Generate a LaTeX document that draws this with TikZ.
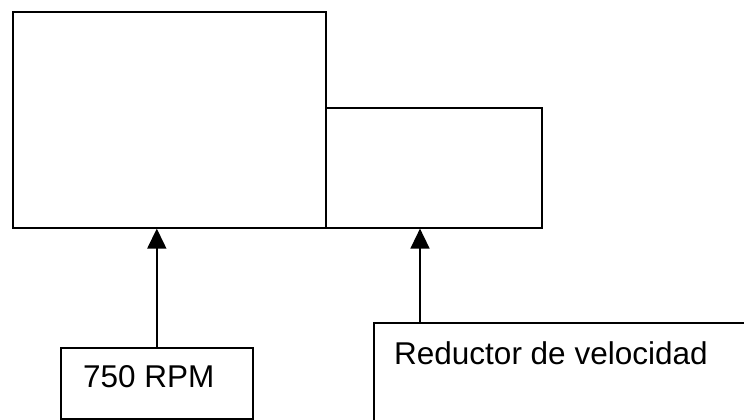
\documentclass[tikz,border=0pt]{standalone}
\usepackage{fontspec}
\setmainfont{Liberation Sans}
\usetikzlibrary{arrows.meta}
\begin{document}
\begin{tikzpicture}[x=1pt,y=-1pt,
  boxst/.style={draw=black,line width=1.6pt,rectangle,inner sep=0pt,anchor=north west},
  lbl/.style={font=\fontsize{31.5}{38}\selectfont,inner sep=0pt,anchor=base west},
  arr/.style={line width=1.6pt,-{Triangle[length=20pt,width=19pt]}}]
\clip (0,0) rectangle (744,420);
\fill[white] (0,0) rectangle (744,420);
\node[boxst,minimum width=313pt,minimum height=216pt] (big) at (12,11) {};
\node[boxst,minimum width=216pt,minimum height=120pt] (small) at (325,107) {};
\node[boxst,minimum width=192pt,minimum height=71pt] (rpm) at (60,347) {};
\node[boxst,minimum width=420pt,minimum height=150pt] (red) at (373,322) {};
\node[lbl] (rpmtxt) at (83,387) {750 RPM};
\node[lbl] (redtxt) at (394,364) {Reductor de velocidad};
\coordinate (a2) at (420,322);
\draw[arr] (rpm.north) -- (rpm.north |- big.south);
\draw[arr] (a2) -- (a2 |- small.south);
\end{tikzpicture}
\end{document}
